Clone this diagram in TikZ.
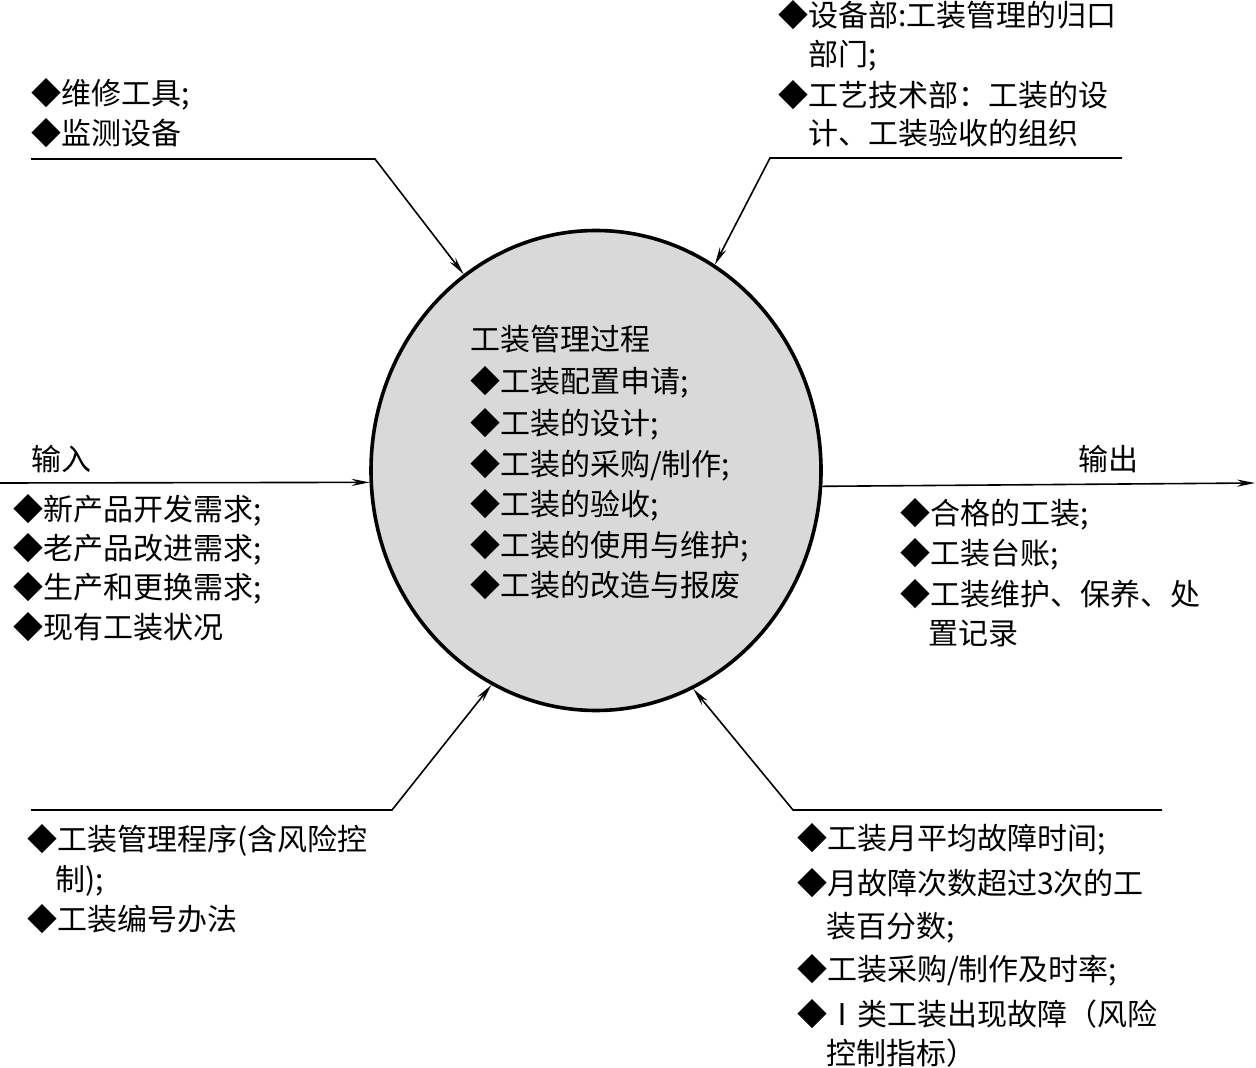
\documentclass[tikz,border=0pt]{standalone}
\usepackage{fontspec}
\setmainfont{Noto Sans CJK SC}
\usetikzlibrary{shapes.geometric,arrows.meta}
\tikzset{
  txt/.style={anchor=west, inner sep=0pt, outer sep=0pt, text height=0.88em, text depth=0.12em, font=\fontsize{15pt}{18pt}\selectfont},
  conn/.style={line width=0.8pt, -{Stealth[length=9pt,width=3.6pt,inset=3pt]}},
  proc/.style={ellipse, draw, line width=1.8pt, fill=gray!30, minimum width=225pt, minimum height=240pt, inner sep=0pt}
}
\begin{document}
\begin{tikzpicture}[x=0.5pt,y=-0.5pt]
\useasboundingbox (0,0) rectangle (1256,1068);
% process circle
\node[proc] (c) at (596,470.5) {};
\node[txt] (p0) at (470,343) {工装管理过程};
\node[txt] (p1) at (470,385) {◆工装配置申请;};
\node[txt] (p2) at (470,427) {◆工装的设计;};
\node[txt] (p3) at (470,468) {◆工装的采购/制作;};
\node[txt] (p4) at (470,508) {◆工装的验收;};
\node[txt] (p5) at (470,549) {◆工装的使用与维护;};
\node[txt] (p6) at (470,589) {◆工装的改造与报废};
% top left
\node[txt] (tl1) at (31,97) {◆维修工具;};
\node[txt] (tl2) at (31,137) {◆监测设备};
\coordinate (tlA) at (31,159);
\coordinate (tlB) at (375,159);
\draw[conn] (tlA) -- (tlB) -- (c.124.2);
% top right
\node[txt] (tr1) at (778,19) {◆设备部:工装管理的归口};
\node[txt] (tr2) at (808,58) {部门;};
\node[txt] (tr3) at (778,99) {◆工艺技术部：工装的设};
\node[txt] (tr4) at (808,137) {计、工装验收的组织};
\coordinate (trA) at (1122,158);
\coordinate (trB) at (770,158);
\draw[conn] (trA) -- (trB) -- (c.60.9);
% input
\node[txt] (inL) at (31,463) {输入};
\node[txt] (in1) at (13,513) {◆新产品开发需求;};
\node[txt] (in2) at (13,552) {◆老产品改进需求;};
\node[txt] (in3) at (13,591) {◆生产和更换需求;};
\node[txt] (in4) at (13,631) {◆现有工装状况};
\coordinate (inA) at (0,483);
\draw[conn] (inA) -- (c.183.2);
% output
\node[txt] (outL) at (1078,463) {输出};
\node[txt] (out1) at (900,517) {◆合格的工装;};
\node[txt] (out2) at (900,557) {◆工装台账;};
\node[txt] (out3) at (900,598) {◆工装维护、保养、处};
\node[txt] (out4) at (928,637) {置记录};
\coordinate (outB) at (1255,483);
\draw[conn] (c.356.8) -- (outB);
% bottom left
\node[txt] (bl1) at (27,843) {◆工装管理程序(含风险控};
\node[txt] (bl2) at (55,883) {制);};
\node[txt] (bl3) at (27,923) {◆工装编号办法};
\coordinate (blA) at (31,810);
\coordinate (blB) at (392,810);
\draw[conn] (blA) -- (blB) -- (c.244.6);
% bottom right
\node[txt] (br1) at (797,842) {◆工装月平均故障时间;};
\node[txt] (br2) at (797,887) {◆月故障次数超过3次的工};
\node[txt] (br3) at (826,930) {装百分数;};
\node[txt] (br4) at (797,973) {◆工装采购/制作及时率;};
\node[txt] (br5) at (797,1018) {◆Ⅰ类工装出现故障（风险};
\node[txt] (br6) at (826,1057) {控制指标）};
\coordinate (brA) at (1162,810);
\coordinate (brB) at (793,810);
\draw[conn] (brA) -- (brB) -- (c.294);
\end{tikzpicture}
\end{document}
